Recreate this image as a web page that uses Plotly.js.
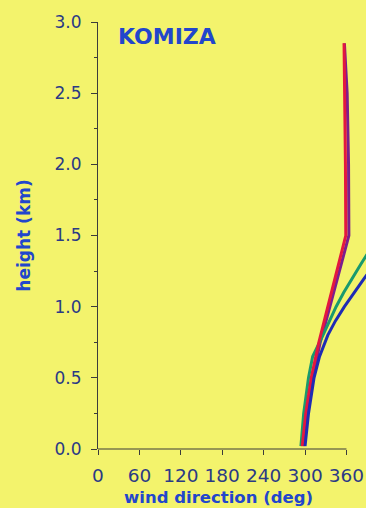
<!DOCTYPE html>
<html>
<head>
<meta charset="utf-8">
<script src="https://cdn.plot.ly/plotly-3.0.1.min.js"></script>
<style>html,body{margin:0;padding:0;background:#f3f36c;}#chart{width:366px;height:508px;}</style>
</head>
<body>
<div id="chart"></div>
<script>
// heights (km) and wind direction (deg) for each profile
var heightRed    = [0.02, 0.25, 0.5, 0.75, 1.0, 1.25, 1.5, 2.0, 2.5, 2.85];
var dirRed       = [296, 301, 309, 320, 333, 346, 359, 358.5, 357.5, 356.5];
var heightPurple = [0.02, 0.25, 0.5, 0.75, 1.0, 1.25, 1.5, 2.0, 2.5, 2.85];
var dirPurple    = [298, 303, 311, 322, 336, 350, 363.5, 363, 361, 357];
var heightGreen  = [0.02, 0.25, 0.5, 0.65, 0.8, 0.9, 1.0, 1.1, 1.2, 1.3, 1.4, 1.5];
var dirGreen     = [294, 298, 305, 311, 326, 335, 345, 356, 368, 381, 394, 407];
var heightBlue   = [0.02, 0.25, 0.5, 0.65, 0.8, 0.9, 1.0, 1.1, 1.2, 1.3, 1.4];
var dirBlue      = [300, 305, 313, 321, 333, 344, 357, 371, 386, 401, 416];

var xTicks = [0, 60, 120, 180, 240, 300, 360];
var yTicks = [0, 0.5, 1.0, 1.5, 2.0, 2.5, 3.0];
var yTickText = ['0.0', '0.5', '1.0', '1.5', '2.0', '2.5', '3.0'];
var stationName = 'KOMIZA';
var xTitle = 'wind direction (deg)';
var yTitle = 'height (km)';

function tr(x, y, color) {
  return {x: x, y: y, type: 'scatter', mode: 'lines',
          line: {color: color, width: 3}, hoverinfo: 'skip', showlegend: false};
}
var data = [
  tr(dirPurple, heightPurple, '#7b1e8e'),
  tr(dirGreen, heightGreen, '#199a6e'),
  tr(dirRed, heightRed, '#e3173f'),
  tr(dirBlue, heightBlue, '#1f2bb4')
];

var tickFontY = {family: 'DejaVu Sans', size: 17, color: '#2b3a85'};
var tickFontX = {family: 'DejaVu Sans', size: 18.5, color: '#2b3a85'};
var axisColor = '#3b3b3b';
var layout = {
  width: 366, height: 508,
  margin: {l: 98, r: 0, t: 22, b: 59},
  paper_bgcolor: '#f3f36c', plot_bgcolor: '#f3f36c',
  showlegend: false,
  xaxis: {
    range: [0, 388.3], showgrid: false, zeroline: false, showline: false,
    tickmode: 'array', tickvals: xTicks, ticktext: xTicks.map(String),
    ticks: 'outside', ticklen: 5, tickwidth: 1, tickcolor: axisColor,
    tickfont: tickFontX, ticklabelstandoff: 5
  },
  yaxis: {
    range: [0, 3], showgrid: false, zeroline: false,
    showline: true, linecolor: axisColor, linewidth: 1,
    tickmode: 'array', tickvals: yTicks, ticktext: yTickText,
    ticks: 'outside', ticklen: 6, tickwidth: 1, tickcolor: axisColor,
    minor: {dtick: 0.25, ticks: 'outside', ticklen: 3, tickcolor: axisColor},
    tickfont: tickFontY, ticklabelstandoff: 6,
    title: {text: yTitle, standoff: 19,
            font: {family: 'DejaVu Sans', size: 17, color: '#2246cc', weight: 'bold'}}
  },
  shapes: [{type: 'line', xref: 'x', yref: 'paper', x0: 0, x1: 360, y0: 0, y1: 0,
            line: {color: axisColor, width: 1.2}}],
  annotations: [
    {text: '<b>' + stationName + '</b>', xref: 'paper', yref: 'paper',
     x: (116 - 98) / 268, y: (449 - 36) / 427, xanchor: 'left', yanchor: 'middle',
     showarrow: false, font: {family: 'DejaVu Sans', size: 22, color: '#2246cc'}},
    {text: '<b>' + xTitle + '</b>', xref: 'paper', yref: 'paper',
     x: (218 - 98) / 268, y: (449 - 498) / 427, xanchor: 'center', yanchor: 'middle',
     showarrow: false, font: {family: 'DejaVu Sans', size: 16.5, color: '#2246cc'}}
  ]
};
Plotly.newPlot('chart', data, layout, {displayModeBar: false, staticPlot: true});
</script>
</body>
</html>
